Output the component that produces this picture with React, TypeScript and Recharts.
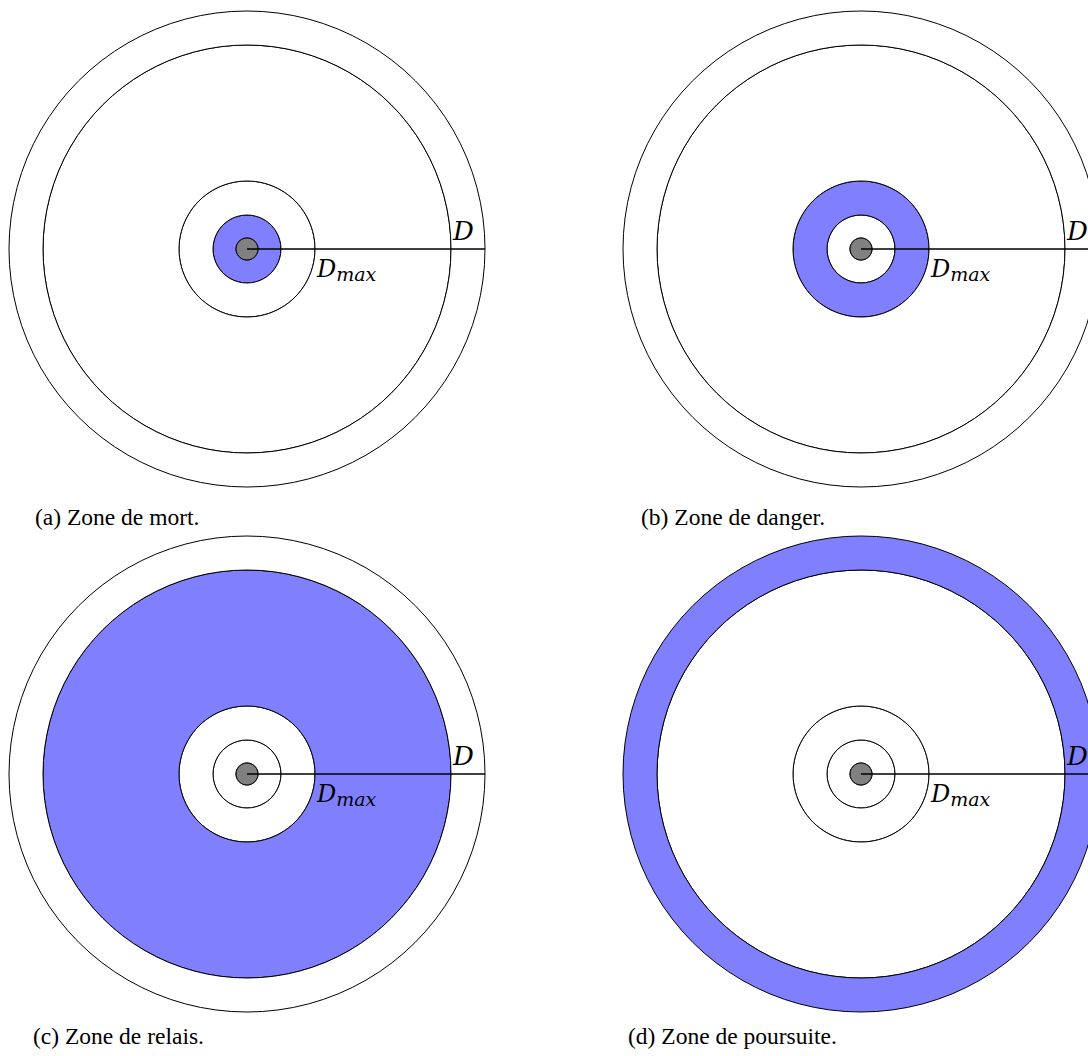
import React from 'react';
import { Pie, PieChart } from 'recharts';

// one panel per zone, highlighted ring index = zone index
const zones = ['mort', 'danger', 'relais', 'poursuite'];
const captions = [
  '(a) Zone de mort.',
  '(b) Zone de danger.',
  '(c) Zone de relais.',
  '(d) Zone de poursuite.',
];
// ring boundaries (px): centre node, then the four zones out to D
const ringRadii = [11, 34, 68, 204, 238];
const ringValue = [{ name: 'ring', value: 1 }];

const panelCenters = [
  { cx: 247, cy: 249 },
  { cx: 861, cy: 249 },
  { cx: 247, cy: 774 },
  { cx: 861, cy: 774 },
];
const captionPos = [
  { x: 35, y: 525 },
  { x: 641, y: 525 },
  { x: 33, y: 1044 },
  { x: 628, y: 1044 },
];

const BLUE = '#8080ff';
const GRAY = '#808080';
const mathFont = '"DejaVu Serif", serif';
const textFont = '"Liberation Serif", serif';

export default function App() {
  return (
    <div
      style={{
        position: 'absolute',
        left: 0,
        top: 0,
        width: 1088,
        height: 1056,
        overflow: 'hidden',
        background: '#fff',
      }}
    >
      <PieChart
        width={1088}
        height={1056}
        margin={{ top: 0, right: 0, bottom: 0, left: 0 }}
        style={{ position: 'absolute', left: 0, top: 0 }}
      >
        {zones.map((zone, p) => {
          const { cx, cy } = panelCenters[p];
          return [
            ...ringRadii.slice(1).map((r, i) => (
              <Pie
                key={`${zone}-${i}`}
                data={ringValue}
                dataKey="value"
                cx={cx}
                cy={cy}
                innerRadius={ringRadii[i]}
                outerRadius={r}
                startAngle={0}
                endAngle={360}
                fill={i === p ? BLUE : '#fff'}
                stroke="#000"
                strokeWidth={1}
                isAnimationActive={false}
                labelLine={false}
              />
            )),
            <Pie
              key={`${zone}-node`}
              data={ringValue}
              dataKey="value"
              cx={cx}
              cy={cy}
              innerRadius={0}
              outerRadius={ringRadii[0]}
              startAngle={0}
              endAngle={360}
              fill={GRAY}
              stroke="#000"
              strokeWidth={1}
              isAnimationActive={false}
              labelLine={false}
            />,
          ];
        })}
      </PieChart>
      <svg width={1088} height={1056} style={{ position: 'absolute', left: 0, top: 0, pointerEvents: 'none' }}>
        {zones.map((zone, p) => {
          const { cx, cy } = panelCenters[p];
          return (
            <g key={zone} fontFamily={mathFont} fontStyle="italic" fill="#000">
              <text x={cx + 206} y={cy - 9} fontSize={26}>D</text>
              <text x={cx + 70} y={cy + 28} fontSize={24}>
                D<tspan fontSize={19} dy={4}>max</tspan>
              </text>
            </g>
          );
        })}
        {captions.map((c, p) => (
          <text
            key={c}
            x={captionPos[p].x}
            y={captionPos[p].y}
            fontFamily={textFont}
            fontSize={23.5}
            fill="#000"
          >
            {c}
          </text>
        ))}
      </svg>
    </div>
  );
}
